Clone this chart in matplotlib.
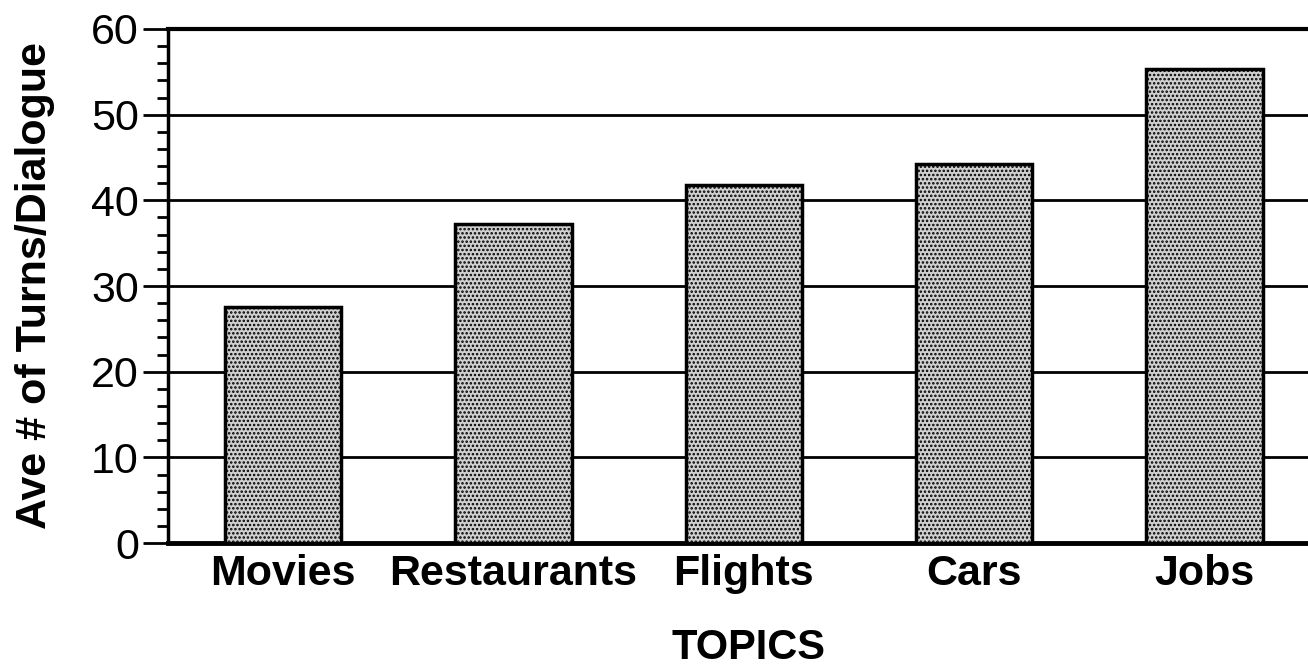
import numpy as np
import matplotlib.pyplot as plt
from matplotlib.ticker import MultipleLocator

topics = ["Movies", "Restaurants", "Flights", "Cars", "Jobs"]
turns = [27.5, 37.2, 41.8, 44.2, 55.3]

plt.rcParams['font.family'] = ['Liberation Sans', 'DejaVu Sans']
plt.rcParams['hatch.color'] = '#555555'
plt.rcParams['hatch.linewidth'] = 1.2

fig = plt.figure(figsize=(13.08, 6.68), dpi=100)
ax = fig.add_axes([0.1284, 0.187, 0.8716, 0.7696])

x = np.arange(len(topics))
ax.bar(x, turns, width=0.505, facecolor='#d0d0d0', edgecolor='black',
       linewidth=2.5, hatch='....', zorder=3)

ax.set_xlim(-0.5, 4.45)
ax.set_ylim(0, 60)
ax.yaxis.set_major_locator(MultipleLocator(10))
ax.yaxis.set_minor_locator(MultipleLocator(2))
ax.grid(axis='y', color='black', linewidth=2, zorder=0)

ax.set_xticks(x)
ax.set_xticklabels(topics, fontsize=31, fontweight='bold')
ax.tick_params(axis='x', length=0, pad=8)
ax.tick_params(axis='y', which='major', length=18, width=2, labelsize=31, pad=3)
ax.tick_params(axis='y', which='minor', length=8, width=2)

ax.spines['right'].set_visible(False)
ax.spines['left'].set_linewidth(2.5)
ax.spines['top'].set_linewidth(3)
ax.spines['bottom'].set_linewidth(3.5)

ax.set_ylabel("Ave # of Turns/Dialogue", fontsize=31, fontweight='bold')
ax.yaxis.set_label_coords(-0.099, 0.502)
ax.set_xlabel("TOPICS", fontsize=30, fontweight='bold')
ax.xaxis.set_label_coords(0.509, -0.165)

fig.savefig("out.png", dpi=100)
